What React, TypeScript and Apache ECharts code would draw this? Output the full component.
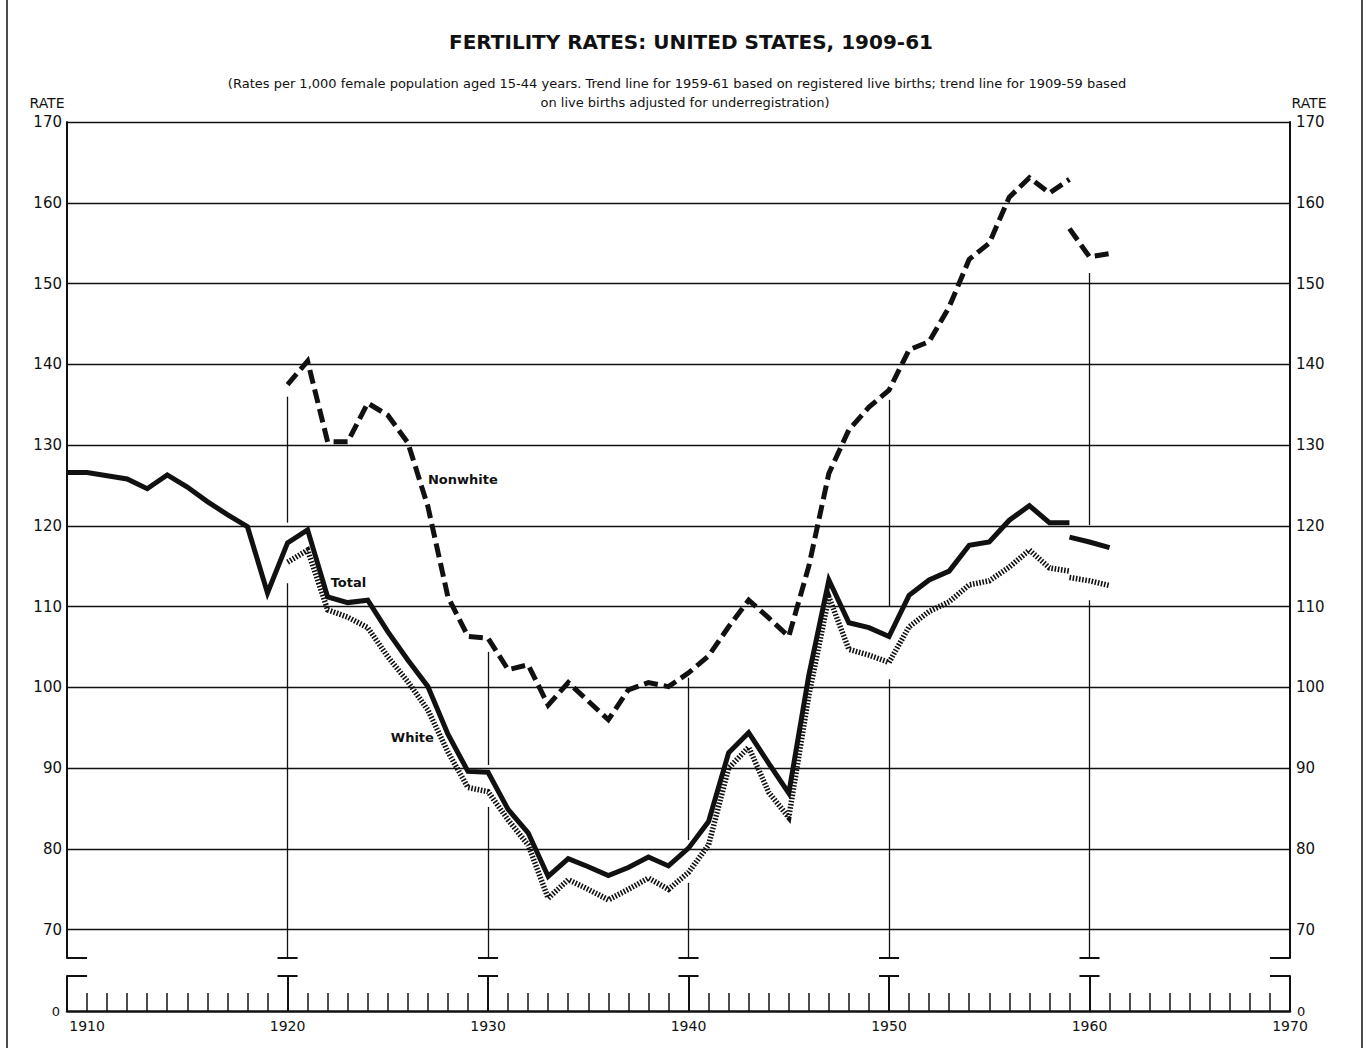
import React, { useEffect, useRef } from "react";
import * as echarts from "echarts";

// ---------- data ----------
const YEARS = [
  1909, 1910, 1911, 1912, 1913, 1914, 1915, 1916, 1917, 1918, 1919,
  1920, 1921, 1922, 1923, 1924, 1925, 1926, 1927, 1928, 1929,
  1930, 1931, 1932, 1933, 1934, 1935, 1936, 1937, 1938, 1939,
  1940, 1941, 1942, 1943, 1944, 1945, 1946, 1947, 1948, 1949,
  1950, 1951, 1952, 1953, 1954, 1955, 1956, 1957, 1958, 1959,
];
const TOTAL = [
  126.6, 126.6, 126.2, 125.8, 124.6, 126.3, 124.8, 123.0, 121.4, 119.9, 111.7,
  117.9, 119.5, 111.2, 110.5, 110.8, 106.9, 103.4, 100.1, 94.2, 89.6,
  89.5, 84.9, 82.0, 76.6, 78.8, 77.8, 76.7, 77.7, 79.0, 77.9,
  80.1, 83.4, 91.9, 94.4, 90.6, 86.9, 101.5, 113.3, 108.0, 107.4,
  106.3, 111.4, 113.3, 114.4, 117.6, 118.0, 120.7, 122.5, 120.4, 120.4,
];
const RACE_YEARS = [
  1920, 1921, 1922, 1923, 1924, 1925, 1926, 1927, 1928, 1929,
  1930, 1931, 1932, 1933, 1934, 1935, 1936, 1937, 1938, 1939,
  1940, 1941, 1942, 1943, 1944, 1945, 1946, 1947, 1948, 1949,
  1950, 1951, 1952, 1953, 1954, 1955, 1956, 1957, 1958, 1959,
];
const WHITE = [
  115.5, 117.0, 109.6, 108.7, 107.4, 103.8, 100.7, 97.2, 92.0, 87.6,
  87.1, 83.6, 80.5, 73.9, 76.2, 75.0, 73.7, 75.0, 76.4, 75.0,
  77.1, 80.5, 90.0, 92.6, 87.0, 83.9, 99.0, 111.2, 104.7, 104.0,
  103.1, 107.5, 109.4, 110.6, 112.7, 113.2, 114.9, 117.0, 114.8, 114.4,
];
const NONWHITE = [
  137.5, 140.4, 130.4, 130.4, 135.2, 133.7, 130.3, 122.4, 111.2, 106.3,
  106.1, 102.2, 102.8, 97.8, 100.6, 98.3, 96.0, 99.7, 100.6, 100.1,
  101.8, 103.9, 107.5, 110.8, 108.6, 106.3, 115.0, 126.5, 131.9, 134.7,
  136.8, 141.8, 142.8, 147.1, 153.0, 155.0, 160.7, 163.1, 161.2, 162.9,
];
// trend lines for 1959-61 based on registered live births
const REG_YEARS = [1959, 1960, 1961];
const TOTAL_REG = [118.6, 118.0, 117.3];
const WHITE_REG = [113.6, 113.2, 112.6];
const NONWHITE_REG = [156.8, 153.3, 153.7];

// axes
const Y_TICKS = [70, 80, 90, 100, 110, 120, 130, 140, 150, 160, 170];
const X_LABELS = [1910, 1920, 1930, 1940, 1950, 1960, 1970];
const X_MINOR_TICKS = [
  1910, 1911, 1912, 1913, 1914, 1915, 1916, 1917, 1918, 1919,
  1920, 1921, 1922, 1923, 1924, 1925, 1926, 1927, 1928, 1929,
  1930, 1931, 1932, 1933, 1934, 1935, 1936, 1937, 1938, 1939,
  1940, 1941, 1942, 1943, 1944, 1945, 1946, 1947, 1948, 1949,
  1950, 1951, 1952, 1953, 1954, 1955, 1956, 1957, 1958, 1959,
  1960, 1961, 1962, 1963, 1964, 1965, 1966, 1967, 1968, 1969,
];
const DECADES = [1920, 1930, 1940, 1950, 1960];
const X_MIN = 1909;
const X_MAX = 1970;
// broken value axis: upper panel 66.5-170, lower panel 0-4.3
const UPPER_MIN = 66.5;
const UPPER_MAX = 170;
const LOWER_MIN = 0;
const LOWER_MAX = 4.3;
// decade drop lines (year, from, to), interrupted where the curves pass
const DROP_SEGMENTS = [
  [1920, 136.0, 120.4], [1920, 112.9, UPPER_MIN],
  [1930, 104.4, 90.4], [1930, 85.2, UPPER_MIN],
  [1940, 101.2, 81.1], [1940, 75.8, UPPER_MIN],
  [1950, 135.6, 110.0], [1950, 101.0, UPPER_MIN],
  [1960, 151.3, 120.1], [1960, 110.8, UPPER_MIN],
];
// curve labels (anchor: left edge, vertical middle)
const CURVE_LABELS = [
  { text: "Nonwhite", year: 1927.0, value: 125.7 },
  { text: "Total", year: 1922.15, value: 113.0 },
  { text: "White", year: 1925.15, value: 93.8 },
];

const TITLE = "FERTILITY RATES: UNITED STATES, 1909-61";
const SUB1 =
  "(Rates per 1,000 female population aged 15-44 years. Trend line for 1959-61 based on registered live births; trend line for 1909-59 based";
const SUB2 = "on live births adjusted for underregistration)";

const FONT = "DejaVu Sans";
const INK = "#111";

function pairs(xs: number[], ys: number[]) {
  return xs.map((x, i) => [x, ys[i]]);
}

function buildOption() {
  const lineSeries = (
    name: string,
    data: number[][],
    width: number,
    type: any
  ) => ({
    name,
    type: "line",
    xAxisIndex: 0,
    yAxisIndex: 0,
    data,
    symbol: "none",
    silent: true,
    z: 5,
    lineStyle: { color: INK, width, type, cap: "butt", join: "miter" },
  });

  const capHalf = 0.5;
  const upperMarks: any[] = [];
  // horizontal grid lines
  Y_TICKS.forEach((v) => upperMarks.push({ yAxis: v }));
  // drop lines
  DROP_SEGMENTS.forEach(([x, a, b]) =>
    upperMarks.push([{ coord: [x, a] }, { coord: [x, b] }])
  );
  // caps at the break (upper side)
  DECADES.forEach((d) =>
    upperMarks.push([
      { coord: [d - capHalf, UPPER_MIN], lineStyle: { width: 2 } },
      { coord: [d + capHalf, UPPER_MIN] },
    ])
  );
  upperMarks.push([
    { coord: [X_MIN, UPPER_MIN], lineStyle: { width: 2 } },
    { coord: [X_MIN + 1, UPPER_MIN] },
  ]);
  upperMarks.push([
    { coord: [X_MAX - 1, UPPER_MIN], lineStyle: { width: 2 } },
    { coord: [X_MAX, UPPER_MIN] },
  ]);

  const lowerMarks: any[] = [];
  DECADES.forEach((d) => {
    lowerMarks.push([{ coord: [d, LOWER_MIN] }, { coord: [d, LOWER_MAX] }]);
    lowerMarks.push([
      { coord: [d - capHalf, LOWER_MAX] },
      { coord: [d + capHalf, LOWER_MAX] },
    ]);
  });
  lowerMarks.push([{ coord: [X_MIN, LOWER_MAX] }, { coord: [X_MIN + 1, LOWER_MAX] }]);
  lowerMarks.push([{ coord: [X_MAX - 1, LOWER_MAX] }, { coord: [X_MAX, LOWER_MAX] }]);

  const axisLabelBase = {
    color: INK,
    fontFamily: FONT,
    fontSize: 15,
  };

  return {
    animation: false,
    backgroundColor: "#fff",
    textStyle: { fontFamily: FONT, color: INK },
    grid: [
      { left: 67, right: 77, top: 122, height: 836, containLabel: false },
      { left: 67, right: 77, top: 976, height: 35, containLabel: false },
    ],
    xAxis: [
      { gridIndex: 0, type: "value", min: X_MIN, max: X_MAX, show: false },
      {
        gridIndex: 1,
        type: "value",
        min: X_MIN,
        max: X_MAX,
        axisLine: { show: true, lineStyle: { color: INK, width: 2.5 } },
        axisTick: {
          show: true,
          inside: true,
          length: 18,
          customValues: X_MINOR_TICKS,
          lineStyle: { color: INK, width: 1.5 },
        },
        axisLabel: {
          ...axisLabelBase,
          fontSize: 14,
          customValues: X_LABELS,
          margin: 8,
          formatter: (v: number) => String(v),
        },
        splitLine: { show: false },
      },
    ],
    yAxis: [
      {
        gridIndex: 0,
        type: "value",
        position: "left",
        min: UPPER_MIN,
        max: UPPER_MAX,
        axisLine: { show: true, lineStyle: { color: INK, width: 2 } },
        axisTick: { show: false },
        splitLine: { show: false },
        axisLabel: { ...axisLabelBase, customValues: Y_TICKS, margin: 5 },
      },
      {
        gridIndex: 0,
        type: "value",
        position: "right",
        min: UPPER_MIN,
        max: UPPER_MAX,
        axisLine: { show: true, lineStyle: { color: INK, width: 2 } },
        axisTick: { show: false },
        splitLine: { show: false },
        axisLabel: { ...axisLabelBase, customValues: Y_TICKS, margin: 6 },
      },
      {
        gridIndex: 1,
        type: "value",
        position: "left",
        min: LOWER_MIN,
        max: LOWER_MAX,
        axisLine: { show: true, lineStyle: { color: INK, width: 2 } },
        axisTick: { show: false },
        splitLine: { show: false },
        axisLabel: { ...axisLabelBase, fontSize: 13, customValues: [0], margin: 7 },
      },
      {
        gridIndex: 1,
        type: "value",
        position: "right",
        min: LOWER_MIN,
        max: LOWER_MAX,
        axisLine: { show: true, lineStyle: { color: INK, width: 2 } },
        axisTick: { show: false },
        splitLine: { show: false },
        axisLabel: { ...axisLabelBase, fontSize: 13, customValues: [0], margin: 7 },
      },
    ],
    series: [
      {
        name: "frame-upper",
        type: "line",
        xAxisIndex: 0,
        yAxisIndex: 0,
        data: [],
        silent: true,
        z: 1,
        markLine: {
          silent: true,
          symbol: ["none", "none"],
          label: { show: false },
          lineStyle: { color: INK, width: 1.3, type: "solid" },
          data: upperMarks,
        },
        markPoint: {
          silent: true,
          symbol: "circle",
          symbolSize: 0,
          label: {
            show: true,
            position: "right",
            distance: 0,
            color: INK,
            fontFamily: FONT,
            fontSize: 13,
            fontWeight: "bold",
          },
          data: CURVE_LABELS.map((l) => ({
            coord: [l.year, l.value],
            label: { formatter: l.text },
          })),
        },
      },
      {
        name: "frame-lower",
        type: "line",
        xAxisIndex: 1,
        yAxisIndex: 2,
        data: [],
        silent: true,
        markLine: {
          silent: true,
          symbol: ["none", "none"],
          label: { show: false },
          lineStyle: { color: INK, width: 2, type: "solid" },
          data: lowerMarks,
        },
      },
      lineSeries("Total", pairs(YEARS, TOTAL), 5, "solid"),
      lineSeries("Total (registered)", pairs(REG_YEARS, TOTAL_REG), 5, "solid"),
      lineSeries("White", pairs(RACE_YEARS, WHITE), 5.5, [1.6, 1.6]),
      lineSeries("White (registered)", pairs(REG_YEARS, WHITE_REG), 5.5, [1.6, 1.6]),
      lineSeries("Nonwhite", pairs(RACE_YEARS, NONWHITE), 5, [14, 6]),
      lineSeries("Nonwhite (registered)", pairs(REG_YEARS, NONWHITE_REG), 5, [14, 6]),
    ],
    graphic: [
      { type: "line", shape: { x1: 7, y1: 0, x2: 7, y2: 1048 }, style: { stroke: INK, lineWidth: 1.5 } },
      { type: "line", shape: { x1: 1362, y1: 0, x2: 1362, y2: 1048 }, style: { stroke: INK, lineWidth: 1.5 } },
      {
        type: "text",
        x: 691,
        y: 42,
        style: {
          text: TITLE,
          fill: INK,
          font: `bold 20px "${FONT}"`,
          textAlign: "center",
          textVerticalAlign: "middle",
        },
      },
      {
        type: "text",
        x: 677,
        y: 83,
        style: {
          text: SUB1,
          fill: INK,
          font: `13px "${FONT}"`,
          textAlign: "center",
          textVerticalAlign: "middle",
        },
      },
      {
        type: "text",
        x: 685,
        y: 102,
        style: {
          text: SUB2,
          fill: INK,
          font: `13px "${FONT}"`,
          textAlign: "center",
          textVerticalAlign: "middle",
        },
      },
      {
        type: "text",
        x: 47,
        y: 103,
        style: { text: "RATE", fill: INK, font: `14px "${FONT}"`, textAlign: "center", textVerticalAlign: "middle" },
      },
      {
        type: "text",
        x: 1309,
        y: 103,
        style: { text: "RATE", fill: INK, font: `14px "${FONT}"`, textAlign: "center", textVerticalAlign: "middle" },
      },
    ],
  };
}

export default function App() {
  const ref = useRef<HTMLDivElement>(null);
  useEffect(() => {
    document.body.style.margin = "0";
    const chart = echarts.init(ref.current!, null, { renderer: "svg" });
    chart.setOption(buildOption() as any);
    return () => chart.dispose();
  }, []);
  return <div ref={ref} style={{ width: 1367, height: 1048 }} />;
}
